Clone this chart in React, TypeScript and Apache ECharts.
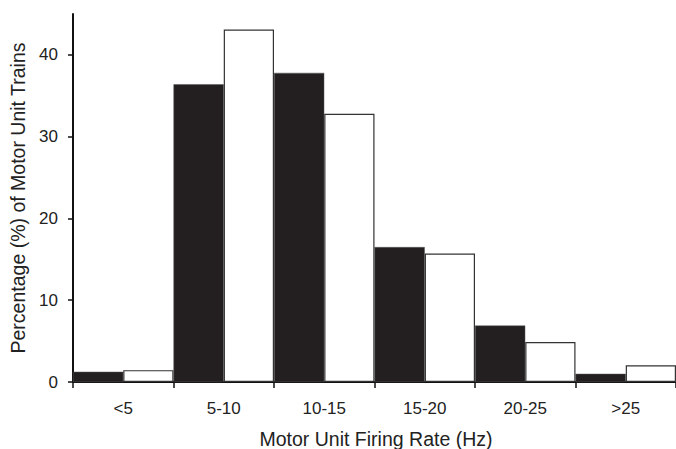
import React, { useEffect, useRef } from "react";
import * as echarts from "echarts";

const categories = ["<5", "5-10", "10-15", "15-20", "20-25", ">25"];
const blackValues = [1.25, 36.4, 37.8, 16.5, 6.9, 1.0];
const whiteValues = [1.45, 43.1, 32.8, 15.7, 4.9, 2.05];
const yTicks = [0, 10, 20, 30, 40];

export default function App() {
  const ref = useRef<HTMLDivElement>(null);
  useEffect(() => {
    if (!ref.current) return;
    const chart = echarts.init(ref.current, null, { renderer: "svg" });
    const font = "Liberation Sans, Arial, Helvetica, sans-serif";
    chart.setOption({
      animation: false,
      backgroundColor: "#ffffff",
      grid: { left: 73, top: 14, width: 606, bottom: 67, containLabel: false },
      xAxis: {
        type: "category",
        data: categories,
        boundaryGap: true,
        axisLine: { show: true, lineStyle: { color: "#111", width: 2 } },
        axisTick: { show: true, length: 6, alignWithLabel: false, lineStyle: { color: "#111", width: 1.5 } },
        axisLabel: { color: "#222", fontSize: 17, fontFamily: font, margin: 18 },
        splitLine: { show: false },
      },
      yAxis: {
        type: "value",
        min: 0,
        max: 45,
        interval: 10,
        name: "Percentage (%) of Motor Unit Trains",
        nameLocation: "middle",
        nameGap: 45,
        nameTextStyle: { color: "#222", fontSize: 19.5, fontFamily: font },
        axisLine: { show: true, lineStyle: { color: "#111", width: 2 } },
        axisTick: { show: true, length: 5, customValues: yTicks, lineStyle: { color: "#111", width: 1.5 } },
        axisLabel: {
          color: "#222",
          fontSize: 17,
          fontFamily: font,
          margin: 15,
          customValues: yTicks,
        },
        splitLine: { show: false },
      },
      graphic: [
        {
          type: "text",
          x: 376,
          y: 439,
          style: {
            text: "Motor Unit Firing Rate (Hz)",
            fill: "#222",
            font: `19.5px ${font}`,
            align: "center",
            verticalAlign: "middle",
          },
        },
      ],
      series: [
        {
          type: "bar",
          data: blackValues,
          barGap: "0%",
          barCategoryGap: "0%",
          itemStyle: { color: "#231f20", borderColor: "#555", borderWidth: 0.5 },
        },
        {
          type: "bar",
          data: whiteValues,
          barGap: "0%",
          barCategoryGap: "0%",
          itemStyle: { color: "#ffffff", borderColor: "#333", borderWidth: 1.2 },
        },
      ],
    });
    return () => chart.dispose();
  }, []);
  return <div ref={ref} style={{ width: 676, height: 449, position: "absolute", left: 0, top: 0 }} />;
}
